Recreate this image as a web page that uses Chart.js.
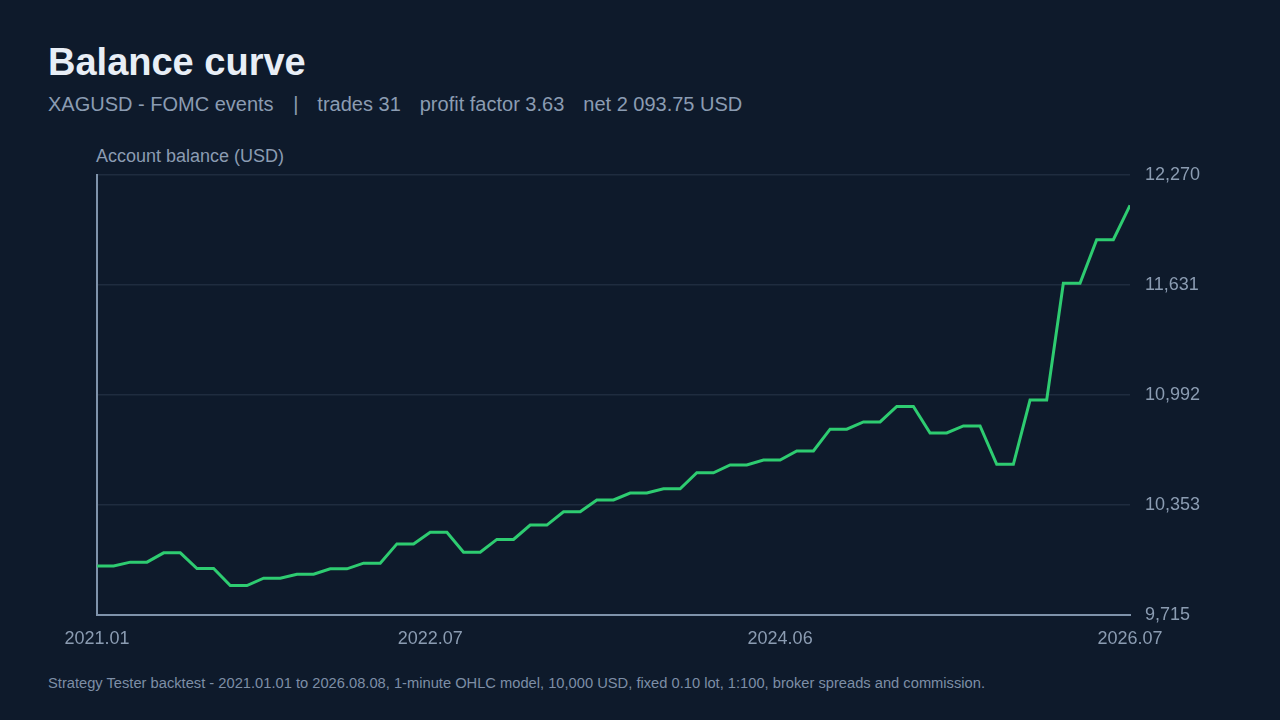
<!DOCTYPE html>
<html>
<head>
<meta charset="utf-8">
<script src="https://cdn.jsdelivr.net/npm/chart.js@4.4.1/dist/chart.umd.min.js"></script>
<style>
  html, body { margin: 0; padding: 0; background: #0e1a2b; }
  body { width: 1280px; height: 720px; position: relative; overflow: hidden;
         font-family: "Liberation Sans", Arial, sans-serif; }
  #title { position: absolute; left: 48px; top: 41px; font-size: 38px; font-weight: bold; color: #e8eef6; }
  #sub { position: absolute; left: 48px; top: 93px; font-size: 20px; color: #8b9cb2; white-space: nowrap; }
  #sub span { margin-left: 19px; }
  #sub span.bar { margin-left: 14px; }
  #ylab { position: absolute; left: 96px; top: 146px; font-size: 18px; color: #8b9cb2; }
  #foot { position: absolute; left: 48px; top: 675px; font-size: 14.7px; color: #7d8ea6; white-space: nowrap; }
  #wrap { position: absolute; left: 0; top: 0; width: 1280px; height: 720px; }
</style>
</head>
<body>
<div id="title">Balance curve</div>
<div id="sub">XAGUSD - FOMC events <span class="bar">|</span><span>trades 31</span><span>profit factor 3.63</span><span>net 2 093.75 USD</span></div>
<div id="ylab">Account balance (USD)</div>
<div id="foot">Strategy Tester backtest - 2021.01.01 to 2026.08.08, 1-minute OHLC model, 10,000 USD, fixed 0.10 lot, 1:100, broker spreads and commission.</div>
<div id="wrap"><canvas id="myChart" width="1280" height="720"></canvas></div>
<script>
// balance after each closed trade (first value = starting deposit)
const balance = [10000, 10022, 10076, 9985, 9886, 9929, 9952, 9983, 10016, 10128,
  10196, 10080, 10154, 10237, 10314, 10383, 10423, 10448, 10541, 10586,
  10615, 10668, 10794, 10836, 10926, 10772, 10813, 10590, 10963, 11641,
  11894, 12093.75];

// date ticks along the x axis (point index -> label)
const xTickIdx = [0, 20, 41, 62];
const xTickText = ['2021.01', '2022.07', '2024.06', '2026.07'];

const yTicks = [9715, 10353, 10992, 11631, 12270];

// each balance level is held flat for one step, then the next trade moves it
const points = [];
balance.forEach((v, i) => {
  points.push({ x: 2 * i, y: v });
  if (i < balance.length - 1) points.push({ x: 2 * i + 1, y: v });
});

const tickColor = '#8b9cb2';
const tickFont = { family: '"Liberation Sans", Arial, sans-serif', size: 18 };

const config = {
  type: 'line',
  data: {
    datasets: [{
      label: 'Balance',
      data: points,
      borderColor: '#2ecc71',
      borderWidth: 3,
      pointRadius: 0,
      tension: 0,
      fill: false
    }]
  },
  options: {
    responsive: false,
    animation: false,
    layout: { padding: { left: 97, top: 175, right: 0, bottom: 65 } },
    plugins: { legend: { display: false }, tooltip: { enabled: false } },
    scales: {
      x: {
        type: 'linear',
        min: 0,
        max: 62,
        afterBuildTicks: s => { s.ticks = xTickIdx.map(v => ({ value: v })); },
        afterFit: s => { s.height = 40; },
        grid: { display: false, drawTicks: false },
        border: { display: true, color: '#7f93ab', width: 2 },
        ticks: {
          color: tickColor, font: tickFont, padding: 13, maxRotation: 0,
          callback: v => xTickText[xTickIdx.indexOf(v)]
        }
      },
      y: {
        position: 'right',
        min: yTicks[0],
        max: yTicks[yTicks.length - 1],
        afterBuildTicks: s => { s.ticks = yTicks.map(v => ({ value: v })); },
        afterFit: s => { s.width = 150; },
        grid: { color: '#1f2c3f', lineWidth: 1.5, drawTicks: false },
        border: { display: false },
        ticks: {
          color: tickColor, font: tickFont, padding: 15,
          callback: v => v.toLocaleString('en-US')
        }
      },
      yl: {
        position: 'left',
        min: yTicks[0],
        max: yTicks[yTicks.length - 1],
        afterFit: s => { s.width = 0; },
        grid: { display: false, drawTicks: false },
        border: { display: true, color: '#7f93ab', width: 2 },
        ticks: { display: false }
      }
    }
  }
};

const ctx = document.getElementById('myChart');
const myChart = new Chart(ctx, config);
</script>
</body>
</html>
